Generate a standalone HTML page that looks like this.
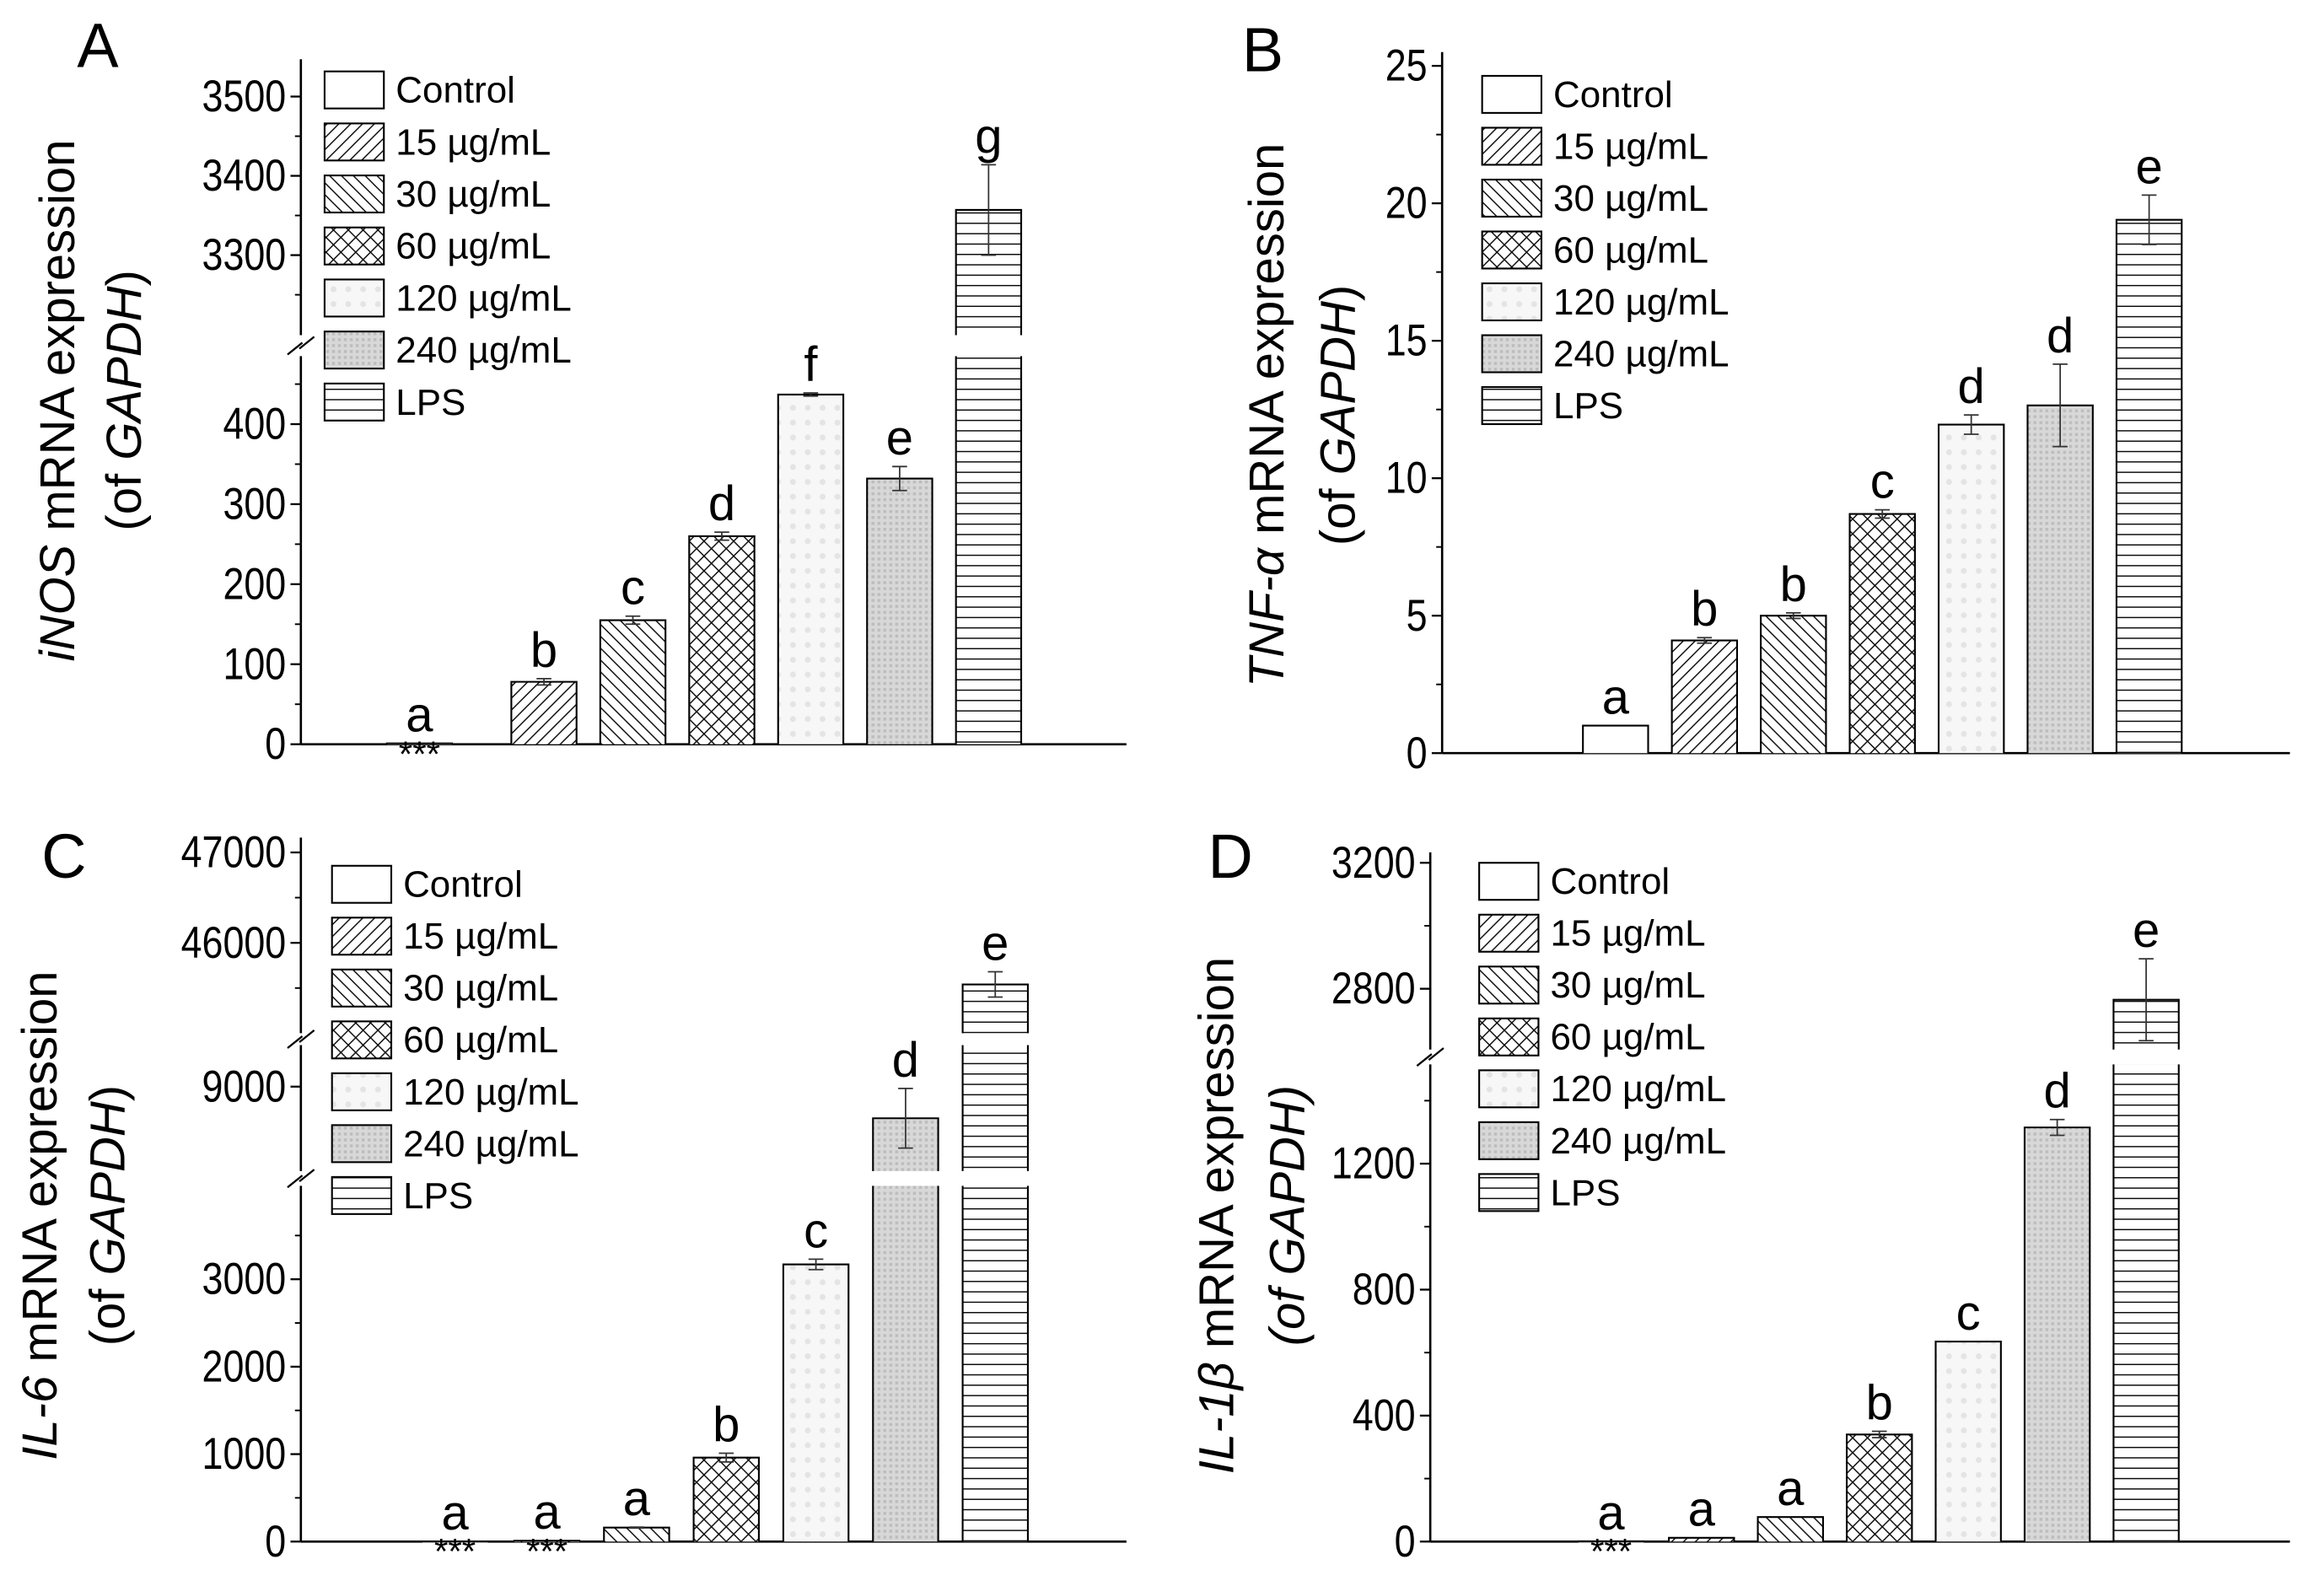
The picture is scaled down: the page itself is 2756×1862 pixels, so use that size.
<!DOCTYPE html>
<html><head><meta charset="utf-8"><style>
html,body{margin:0;padding:0;background:#fff;}
svg{display:block;}
text{font-family:"Liberation Sans",Arial,sans-serif;fill:#000;}
</style></head><body>
<svg id="fig" width="2756" height="1862" viewBox="0 0 1568 1059" xmlns="http://www.w3.org/2000/svg">
<defs>
<pattern id="p15" width="8" height="8" patternUnits="userSpaceOnUse"><rect width="8" height="8" fill="#fff"/><path d="M0,8 L8,0 M-2,2 L2,-2 M6,10 L10,6" stroke="#000" stroke-width="0.8"/></pattern>
<pattern id="p30" width="8" height="8" patternUnits="userSpaceOnUse"><rect width="8" height="8" fill="#fff"/><path d="M0,0 L8,8 M-2,6 L2,10 M6,-2 L10,2" stroke="#000" stroke-width="0.8"/></pattern>
<pattern id="p60" width="10" height="10" patternUnits="userSpaceOnUse"><rect width="10" height="10" fill="#fff"/><path d="M0,0 L10,10 M0,10 L10,0" stroke="#000" stroke-width="0.8"/></pattern>
<pattern id="p120" width="10" height="10" patternUnits="userSpaceOnUse"><rect width="10" height="10" fill="#f7f7f7"/><circle cx="5" cy="5" r="2" fill="#e4e4e4"/></pattern>
<pattern id="p240" width="4" height="4" patternUnits="userSpaceOnUse"><rect width="4" height="4" fill="#d8d8d8"/><rect width="2" height="2" fill="#bdbdbd"/></pattern>
<pattern id="pLPS" width="8" height="7" patternUnits="userSpaceOnUse"><rect width="8" height="7" fill="#fff"/><path d="M0,3.5 L8,3.5" stroke="#000" stroke-width="0.8"/></pattern>
</defs>
</svg>
<script>
// ---- data ----
const groups = ["Control","15 µg/mL","30 µg/mL","60 µg/mL","120 µg/mL","240 µg/mL","LPS"];
const iNOSValues = [1, 78, 155, 260, 437, 332, 3357];
const iNOSErrors = [0, 4, 5, 5, 2, 15, 57];
const iNOSLetters = ["a","b","c","d","f","e","g"];
const tnfValues = [1, 4.1, 5.0, 8.7, 11.95, 12.65, 19.4];
const tnfErrors = [0, 0.1, 0.1, 0.15, 0.35, 1.5, 0.9];
const tnfLetters = ["a","b","b","c","d","d","e"];
const il6Values = [1, 10, 160, 960, 3170, 8650, 45540];
const il6Errors = [0, 0, 5, 50, 60, 330, 140];
const il6Letters = ["a","a","a","b","c","d","e"];
const il1Values = [1, 12, 78, 340, 635, 1315, 2765];
const il1Errors = [0, 0, 0, 10, 0, 25, 130];
const il1Letters = ["a","a","a","b","c","d","e"];
const iNOSTicks = [0,100,200,300,400,3300,3400,3500];
const tnfTicks = [0,5,10,15,20,25];
const il6Ticks = [0,1000,2000,3000,9000,46000,47000];
const il1Ticks = [0,400,800,1200,2800,3200];
const starred = {A:[0], C:[0,1], D:[0]};

const NS="http://www.w3.org/2000/svg";
const svg=document.getElementById('fig');
const fills=["#fff","url(#p15)","url(#p30)","url(#p60)","url(#p120)","url(#p240)","url(#pLPS)"];
function mk(tag,attrs,parent){const e=document.createElementNS(NS,tag);for(const k in attrs)e.setAttribute(k,attrs[k]);(parent||svg).appendChild(e);return e;}

function panel(cfg){
  const g=mk('g',{});
  
  
  const segs=cfg.segs;
  const yOf=v=>{for(const s of segs){if(v>=s.v0&&v<=s.v1)return s.y0-(v-s.v0)*s.k;}
    let best=segs[segs.length-1];for(const s of segs){if(v<s.v0){best=s;break;}}return best.y0-(Math.min(Math.max(v,best.v0),best.v1)-best.v0)*best.k;};
  const ax=cfg.ax, base=segs[0].y0;
  segs.forEach((s,i)=>{
    const ya=s.y0, yb=s.y0-(s.v1-s.v0)*s.k;
    const l=mk('line',{x1:ax,x2:ax,y1:ya,y2:yb,stroke:'#000','stroke-width':1.5},g);
    
    
    if(i>0){const yb0=segs[i-1].y0-(segs[i-1].v1-segs[i-1].v0)*segs[i-1].k;
      const ym=(ya+yb0)/2;
      mk('line',{x1:ax-9,y1:ym+6,x2:ax+1,y2:ym-2,stroke:'#000','stroke-width':1.3},g);
      mk('line',{x1:ax-1,y1:ym+2,x2:ax+9,y2:ym-6,stroke:'#000','stroke-width':1.3},g);}
  });
  const xl=mk('line',{x1:ax,x2:cfg.xEnd,y1:base,y2:base,stroke:'#000','stroke-width':1.5},g);
  
  
  cfg.ticks.forEach(t=>{const y=yOf(t);
    mk('line',{x1:ax-7,x2:ax,y1:y,y2:y,stroke:'#000','stroke-width':1.3},g);
    const tx=mk('text',{x:ax-10,y:y+10,'text-anchor':'end','font-size':30,transform:`translate(${ax-10},0) scale(0.85,1) translate(${-(ax-10)},0)`},g);
    tx.textContent=t;
    
    
  });
  cfg.minor.forEach(t=>{const y=yOf(t);mk('line',{x1:ax-4,x2:ax,y1:y,y2:y,stroke:'#000','stroke-width':1.1},g);});
  cfg.values.forEach((v,i)=>{
    const cx=cfg.xs0+(i===0?0:cfg.first+ (i-1)*cfg.step), w=44;
    segs.forEach((s,si)=>{ if(v<=s.v0 && s.v0>0) return;
      const top=s.y0-(Math.min(v,s.v1)-s.v0)*s.k;
      const h=Math.max(s.y0-top,0.8);
      const r=mk('rect',{x:cx-w/2,y:top,width:w,height:h,fill:fills[i],stroke:'none'},g);
      
      
      const x0=cx-w/2,x1=cx+w/2,yb=s.y0;
      const cut=v>s.v1;
      let d=`M${x0},${yb} L${x0},${top} `+(cut?`M${x1},${top} `:`L${x1},${top} `)+`L${x1},${yb}`;
      mk('path',{d:d,fill:'none',stroke:'#000','stroke-width':1.2},g);
    });
    const e=cfg.errors[i], yv=yOf(v);
    let yl=yv;
    if(e>0){const yt=yOf(v+e), yb=yOf(v-e);
      mk('line',{x1:cx,x2:cx,y1:yt,y2:yb,stroke:'#333','stroke-width':1},g);
      mk('line',{x1:cx-5,x2:cx+5,y1:yt,y2:yt,stroke:'#333','stroke-width':1},g);
      mk('line',{x1:cx-5,x2:cx+5,y1:yb,y2:yb,stroke:'#333','stroke-width':1},g);yl=yt;}
    if((cfg.stars||[]).includes(i)){const st=mk('text',{x:cx,y:base+15,'text-anchor':'middle','font-size':24},g);st.textContent='***';
      
      }
    const lt=mk('text',{x:cx,y:yl-8,'text-anchor':'middle','font-size':33},g);lt.textContent=cfg.letters[i];
    
    
  });
  groups.forEach((gname,i)=>{const y=cfg.legY+i*cfg.legStep;
    const r=mk('rect',{x:cfg.legX,y:y-12,width:40,height:25,fill:fills[i],stroke:'#000','stroke-width':1.2},g);
    
    
    const t=mk('text',{x:cfg.legX+48,y:y+9,'font-size':25},g);t.textContent=gname;
    
    
  });
  const pl=mk('text',{x:cfg.pl[0],y:cfg.pl[1],'font-size':42},g);pl.textContent=cfg.label;
  
  
  const t1=mk('text',{x:0,y:0,'text-anchor':'middle','font-size':33,transform:`translate(${cfg.tx[0]},${cfg.ty}) rotate(-90)`},g);
  t1.innerHTML=cfg.t1;
  
  
  const t2=mk('text',{x:0,y:0,'text-anchor':'middle','font-size':33,transform:`translate(${cfg.tx[1]},${cfg.ty}) rotate(-90)`},g);
  t2.innerHTML=cfg.t2;
  
  
}

panel({name:'panel-a-inos',label:'A',pl:[52,45],ax:203,xEnd:760,
  segs:[{v0:0,v1:485,y0:502,k:0.54},{v0:3199,v1:3547,y0:226,k:0.535}],
  ticks:iNOSTicks,minor:[50,150,250,350,450,3250,3350,3450],
  values:iNOSValues,errors:iNOSErrors,letters:iNOSLetters,stars:starred.A,
  xs0:283,first:84,step:60,legX:219,legY:60,legStep:35.1,
  tx:[50,95],ty:270,t1:'<tspan font-style="italic">iNOS</tspan> mRNA expression',t2:'(of <tspan font-style="italic">GAPDH</tspan>)'});
panel({name:'panel-b-tnf',label:'B',pl:[838,48],ax:973,xEnd:1545,
  segs:[{v0:0,v1:25.5,y0:508,k:18.55}],
  ticks:tnfTicks,minor:[2.5,7.5,12.5,17.5,22.5],
  values:tnfValues,errors:tnfErrors,letters:tnfLetters,
  xs0:1090,first:60,step:60,legX:1000,legY:63,legStep:35,
  tx:[866,914],ty:280,t1:'<tspan font-style="italic">TNF-α</tspan> mRNA expression',t2:'(of <tspan font-style="italic">GAPDH</tspan>)'});
panel({name:'panel-c-il6',label:'C',pl:[28,592],ax:203,xEnd:760,
  segs:[{v0:0,v1:4068,y0:1040,k:0.059},{v0:8066,v1:9459,y0:790,k:0.061},{v0:45000,v1:47164,y0:697,k:0.061}],
  ticks:il6Ticks,minor:[500,1500,2500,3500,45500,46500],
  values:il6Values,errors:il6Errors,letters:il6Letters,stars:starred.C,
  xs0:307,first:62,step:60.5,legX:224,legY:596,legStep:35,
  tx:[38,84],ty:820,t1:'<tspan font-style="italic">IL-6</tspan> mRNA expression',t2:'(of <tspan font-style="italic">GAPDH</tspan>)'});
panel({name:'panel-d-il1b',label:'D',pl:[815,592],ax:965,xEnd:1545,
  segs:[{v0:0,v1:1515,y0:1040,k:0.2125},{v0:2607,v1:3233,y0:708,k:0.2125}],
  ticks:il1Ticks,minor:[200,600,1000,1400,3000],
  values:il1Values,errors:il1Errors,letters:il1Letters,stars:starred.D,
  xs0:1087,first:61,step:60,legX:998,legY:594,legStep:35,
  tx:[832,880],ty:820,t1:'<tspan font-style="italic">IL-1β</tspan> mRNA expression',t2:'<tspan font-style="italic">(of GAPDH)</tspan>'});
</script>
</body></html>
